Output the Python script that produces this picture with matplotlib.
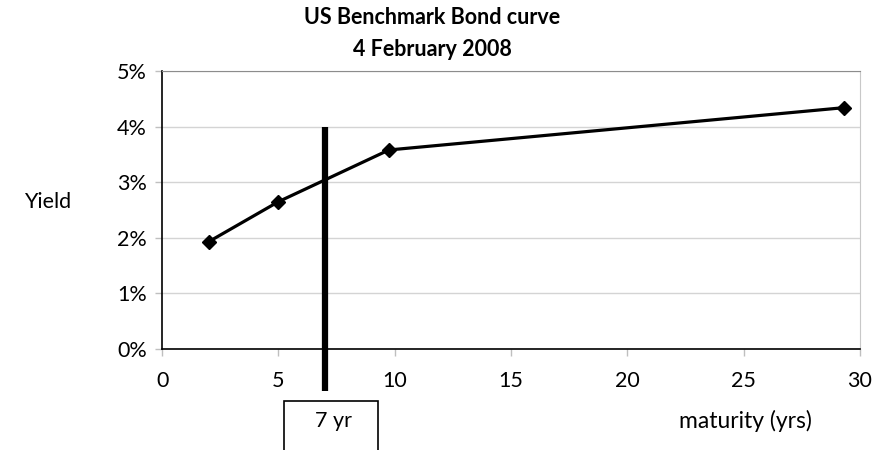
import matplotlib.pyplot as plt
from matplotlib.patches import Rectangle
import matplotlib.transforms as mtransforms

plt.rcParams['font.family'] = ['Lato', 'DejaVu Sans']

# benchmark maturities (years) and yields (%)
maturities = [2, 5, 9.75, 29.3]
yields = [1.93, 2.65, 3.58, 4.34]
horizon = 7
horizon_label = "7 yr"
x_ticks = [0, 5, 10, 15, 20, 25, 30]
y_ticks = [0, 1, 2, 3, 4, 5]

fig = plt.figure(figsize=(8.72, 4.5), dpi=100)
ax = fig.add_axes([0.186, 0.2244, 0.8, 0.6178])

ax.plot(maturities, yields, color="black", lw=2.3, marker="D", ms=7.5, zorder=3)

# holding horizon line, runs below the axis
ax.plot([horizon, horizon], [-0.75, 4.0], color="black", lw=4.5, clip_on=False, zorder=4, solid_capstyle="butt")

ax.set_xlim(0, 30)
ax.set_ylim(0, 5)
ax.set_xticks(x_ticks)
ax.set_yticks(y_ticks)
ax.set_yticklabels([f"{v}%" for v in y_ticks])
ax.tick_params(labelsize=15.5, length=5, width=1, color="#bfbfbf", pad=11)
ax.tick_params(axis="y", pad=6)
ax.grid(axis="y", color="#d4d4d4", lw=1)
ax.set_axisbelow(True)

ax.spines["left"].set_color("black")
ax.spines["bottom"].set_color("black")
ax.spines["left"].set_linewidth(1.2)
ax.spines["bottom"].set_linewidth(1.2)
ax.spines["top"].set_color("#8c8c8c")
ax.spines["right"].set_color("#c8c8c8")

# label box under the horizon line
trans = mtransforms.blended_transform_factory(ax.transData, fig.transFigure)
box = Rectangle((horizon - 1.77, -0.05), 4.04, 0.159, transform=trans, fill=False,
                edgecolor="black", lw=1.2, clip_on=False)
fig.add_artist(box)
fig.text(0.382, 0.064, horizon_label, ha="center", va="center", fontsize=15.5)

fig.text(0.855, 0.065, "maturity (yrs)", ha="center", va="center", fontsize=16.5)
fig.text(0.054, 0.55, "Yield", ha="center", va="center", fontsize=15.5)

fig.text(0.496, 0.96, "US Benchmark Bond curve", ha="center", va="center",
         fontsize=15.5, fontweight="bold")
fig.text(0.496, 0.889, "4 February 2008", ha="center", va="center",
         fontsize=15.5, fontweight="bold")

fig.savefig("out.png", dpi=100)
